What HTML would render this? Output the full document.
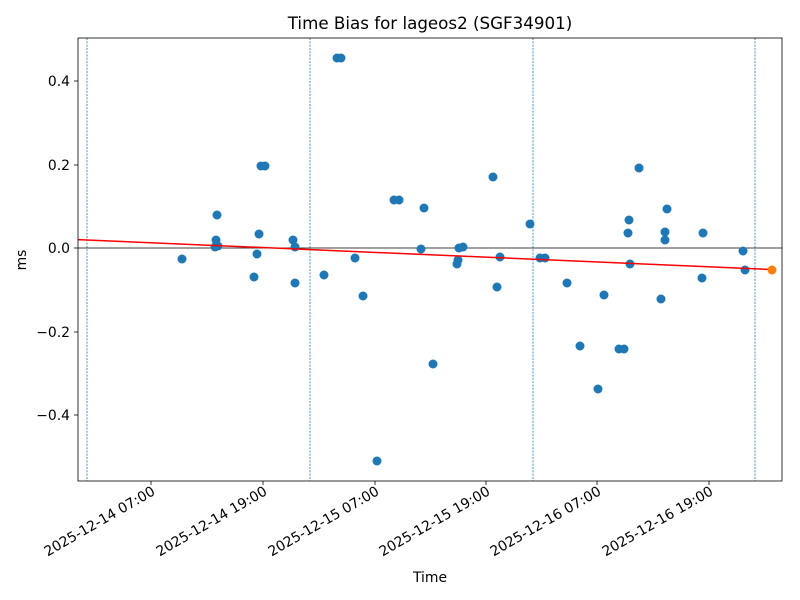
<!DOCTYPE html>
<html><head><meta charset="utf-8"><style>body{margin:0;background:#fff}svg{display:block}text{font-family:"DejaVu Sans","Liberation Sans",sans-serif;fill:#000}</style></head><body>
<svg width="800" height="600" viewBox="0 0 800 600" xmlns="http://www.w3.org/2000/svg">
<rect width="800" height="600" fill="#fff"/>
<g stroke="#1f77b4" stroke-width="0.8" stroke-dasharray="2,1.3">
<line x1="87" y1="38" x2="87" y2="481"/><line x1="310" y1="38" x2="310" y2="481"/><line x1="533" y1="38" x2="533" y2="481"/><line x1="755" y1="38" x2="755" y2="481"/>
</g>
<line x1="78" y1="248" x2="782" y2="248" stroke="#000" stroke-width="0.8"/>
<g fill="#1f77b4">
<circle cx="182" cy="259" r="4.5"/><circle cx="217" cy="215" r="4.5"/><circle cx="216" cy="240" r="4.5"/><circle cx="216" cy="246" r="4.5"/><circle cx="218" cy="246" r="4.5"/><circle cx="215" cy="247" r="4.5"/><circle cx="254" cy="277" r="4.5"/><circle cx="257" cy="254" r="4.5"/><circle cx="259" cy="234" r="4.5"/><circle cx="261" cy="166" r="4.5"/><circle cx="265" cy="166" r="4.5"/><circle cx="293" cy="240" r="4.5"/><circle cx="295" cy="247" r="4.5"/><circle cx="295" cy="283" r="4.5"/><circle cx="324" cy="275" r="4.5"/><circle cx="337" cy="58" r="4.5"/><circle cx="341" cy="58" r="4.5"/><circle cx="355" cy="258" r="4.5"/><circle cx="363" cy="296" r="4.5"/><circle cx="377" cy="461" r="4.5"/><circle cx="394" cy="200" r="4.5"/><circle cx="399" cy="200" r="4.5"/><circle cx="421" cy="249" r="4.5"/><circle cx="424" cy="208" r="4.5"/><circle cx="433" cy="364" r="4.5"/><circle cx="457" cy="264" r="4.5"/><circle cx="458" cy="260" r="4.5"/><circle cx="459" cy="248" r="4.5"/><circle cx="463" cy="247" r="4.5"/><circle cx="493" cy="177" r="4.5"/><circle cx="497" cy="287" r="4.5"/><circle cx="500" cy="257" r="4.5"/><circle cx="530" cy="224" r="4.5"/><circle cx="540" cy="258" r="4.5"/><circle cx="545" cy="258" r="4.5"/><circle cx="567" cy="283" r="4.5"/><circle cx="580" cy="346" r="4.5"/><circle cx="598" cy="389" r="4.5"/><circle cx="604" cy="295" r="4.5"/><circle cx="619" cy="349" r="4.5"/><circle cx="624" cy="349" r="4.5"/><circle cx="628" cy="233" r="4.5"/><circle cx="629" cy="220" r="4.5"/><circle cx="630" cy="264" r="4.5"/><circle cx="639" cy="168" r="4.5"/><circle cx="661" cy="299" r="4.5"/><circle cx="665" cy="232" r="4.5"/><circle cx="665" cy="240" r="4.5"/><circle cx="667" cy="209" r="4.5"/><circle cx="702" cy="278" r="4.5"/><circle cx="703" cy="233" r="4.5"/><circle cx="743" cy="251" r="4.5"/><circle cx="745" cy="270" r="4.5"/>
</g>
<line x1="78" y1="239.6" x2="772" y2="269.5" stroke="#ff0000" stroke-width="1.5"/>
<circle cx="772" cy="270" r="4.5" fill="#ff7f0e"/>
<rect x="78" y="38" width="704" height="443" fill="none" stroke="#000" stroke-width="0.8"/>
<g stroke="#000" stroke-width="0.8">
<line x1="74" y1="81" x2="78" y2="81"/><line x1="74" y1="165" x2="78" y2="165"/><line x1="74" y1="248" x2="78" y2="248"/><line x1="74" y1="332" x2="78" y2="332"/><line x1="74" y1="415" x2="78" y2="415"/>
<line x1="151" y1="481" x2="151" y2="485"/><line x1="263" y1="481" x2="263" y2="485"/><line x1="375" y1="481" x2="375" y2="485"/><line x1="486" y1="481" x2="486" y2="485"/><line x1="597" y1="481" x2="597" y2="485"/><line x1="709" y1="481" x2="709" y2="485"/>
</g>
<g font-size="13.9" text-anchor="end">
<text x="70" y="86">0.4</text><text x="70" y="170">0.2</text><text x="70" y="253">0.0</text><text x="70" y="337">−0.2</text><text x="70" y="420">−0.4</text>
</g>
<g font-size="13.9" text-anchor="end">
<text transform="translate(156,494) rotate(-30)">2025-12-14 07:00</text>
<text transform="translate(268,494) rotate(-30)">2025-12-14 19:00</text>
<text transform="translate(380,494) rotate(-30)">2025-12-15 07:00</text>
<text transform="translate(491,494) rotate(-30)">2025-12-15 19:00</text>
<text transform="translate(602,494) rotate(-30)">2025-12-16 07:00</text>
<text transform="translate(714,494) rotate(-30)">2025-12-16 19:00</text>
</g>
<text x="430" y="29" font-size="16.7" text-anchor="middle">Time Bias for lageos2 (SGF34901)</text>
<text x="430" y="582" font-size="13.9" text-anchor="middle">Time</text>
<text transform="translate(26,260) rotate(-90)" font-size="13.9" text-anchor="middle">ms</text>
</svg>
</body></html>
